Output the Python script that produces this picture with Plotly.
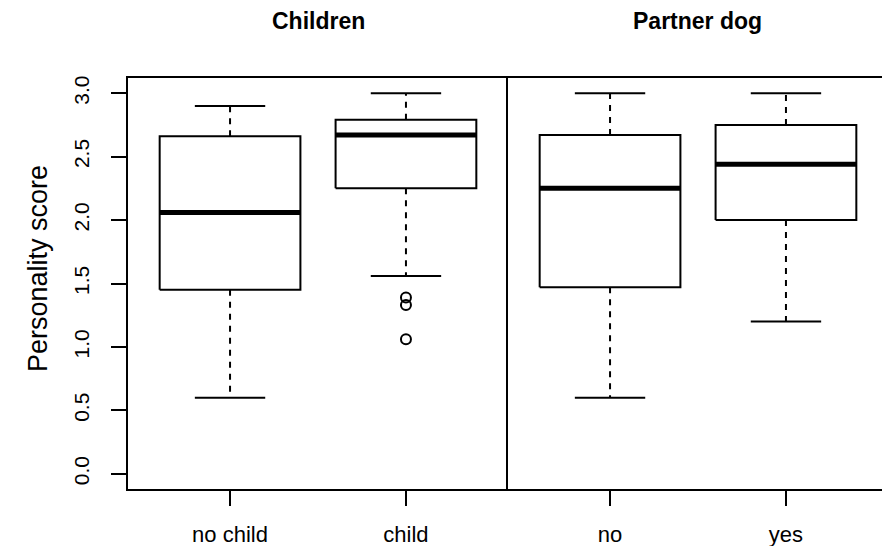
import plotly.graph_objects as go

# ---- data ----
panel_titles = ["Children", "Partner dog"]
children_groups = ["no child", "child"]
children_lower = [0.60, 1.56]
children_q1 = [1.45, 2.25]
children_median = [2.06, 2.67]
children_q3 = [2.66, 2.79]
children_upper = [2.90, 3.00]
children_outliers = [[], [1.39, 1.33, 1.06]]

dog_groups = ["no", "yes"]
dog_lower = [0.60, 1.20]
dog_q1 = [1.47, 2.00]
dog_median = [2.25, 2.44]
dog_q3 = [2.67, 2.75]
dog_upper = [3.00, 3.00]
dog_outliers = [[], []]

y_ticks = [0.0, 0.5, 1.0, 1.5, 2.0, 2.5, 3.0]
y_label = "Personality score"

FONT = "Liberation Sans, Arial, Helvetica, sans-serif"
BOX_HALF = 0.4
CAP_HALF = 0.2

fig = go.Figure()


def add_panel(xaxis, yaxis, groups, lower, q1, med, q3, upper, outliers):
    for i, name in enumerate(groups):
        pos = i + 1
        common = dict(xaxis=xaxis, yaxis=yaxis, hoverinfo="skip", showlegend=False)
        # box
        fig.add_trace(go.Scatter(
            x=[pos - BOX_HALF, pos + BOX_HALF, pos + BOX_HALF, pos - BOX_HALF, pos - BOX_HALF],
            y=[q1[i], q1[i], q3[i], q3[i], q1[i]],
            mode="lines", line=dict(color="black", width=2), **common))
        # whiskers (dashed)
        fig.add_trace(go.Scatter(x=[pos, pos], y=[q3[i], upper[i]], mode="lines",
                                 line=dict(color="black", width=2, dash="6px,6px"), **common))
        fig.add_trace(go.Scatter(x=[pos, pos], y=[q1[i], lower[i]], mode="lines",
                                 line=dict(color="black", width=2, dash="6px,6px"), **common))
        # caps
        fig.add_trace(go.Scatter(x=[pos - CAP_HALF, pos + CAP_HALF], y=[upper[i], upper[i]],
                                 mode="lines", line=dict(color="black", width=2), **common))
        fig.add_trace(go.Scatter(x=[pos - CAP_HALF, pos + CAP_HALF], y=[lower[i], lower[i]],
                                 mode="lines", line=dict(color="black", width=2), **common))
        # median
        fig.add_trace(go.Scatter(x=[pos - BOX_HALF, pos + BOX_HALF], y=[med[i], med[i]],
                                 mode="lines", line=dict(color="black", width=5), **common))
        # outliers
        if outliers[i]:
            fig.add_trace(go.Scatter(x=[pos] * len(outliers[i]), y=outliers[i], mode="markers",
                                     marker=dict(symbol="circle-open", size=10, color="black",
                                                 line=dict(width=2, color="black")), **common))


add_panel("x", "y", children_groups, children_lower, children_q1, children_median,
          children_q3, children_upper, children_outliers)
add_panel("x2", "y2", dog_groups, dog_lower, dog_q1, dog_median, dog_q3, dog_upper, dog_outliers)

W, H = 882, 546
ML, MR, MT, MB = 128, 0, 78, 57
plot_w = W - ML - MR
split = 380 / plot_w

axis_common = dict(showgrid=False, zeroline=False, linecolor="black", linewidth=2,
                   ticks="outside", ticklen=15, tickwidth=2, tickcolor="black",
                   tickfont=dict(family=FONT, size=22, color="black"))

fig.update_layout(
    width=W, height=H,
    margin=dict(l=ML, r=MR, t=MT, b=MB, pad=0),
    paper_bgcolor="white", plot_bgcolor="white",
    font=dict(family=FONT, color="black"),
    xaxis=dict(domain=[0, split], range=[0.42, 2.58], tickvals=[1, 2], ticktext=children_groups,
               showline=True, mirror=True, ticklabelstandoff=10, **axis_common),
    xaxis2=dict(domain=[split, 1], range=[0.42, 0.42 + (W - ML - 380) / (380 / 2.16)],
                tickvals=[1, 2], ticktext=dog_groups, anchor="y2",
                showline=True, mirror=True, ticklabelstandoff=10, **axis_common),
    yaxis=dict(range=[-0.12, 3.12], tickvals=y_ticks, ticktext=[f"{v:.1f}" for v in y_ticks],
               tickangle=-90, showline=True, mirror=False, ticklabelstandoff=14,
               **{**axis_common, "tickfont": dict(family=FONT, size=21, color="black")}),
    yaxis2=dict(range=[-0.12, 3.12], anchor="x2", showticklabels=False, ticks="",
                showline=True, mirror=False, showgrid=False, zeroline=False,
                linecolor="black", linewidth=2),
    annotations=[
        dict(text=f"<b>{panel_titles[0]}</b>", xref="paper", yref="paper",
             x=split / 2, y=1 + (MT - 21) / (H - MT - MB), xanchor="center", yanchor="middle",
             showarrow=False, font=dict(family=FONT, size=23, color="black")),
        dict(text=f"<b>{panel_titles[1]}</b>", xref="paper", yref="paper",
             x=(split + (887 - ML) / plot_w) / 2, y=1 + (MT - 21) / (H - MT - MB),
             xanchor="center", yanchor="middle",
             showarrow=False, font=dict(family=FONT, size=23, color="black")),
        dict(text=y_label, xref="paper", yref="paper", textangle=-90,
             x=(38 - ML) / plot_w, y=(H - MB - 269) / (H - MT - MB),
             xanchor="center", yanchor="middle", showarrow=False,
             font=dict(family=FONT, size=27, color="black")),
    ],
)

fig.write_html("out.html", config={"displayModeBar": False},
               post_script="document.body.style.margin='0';document.body.style.overflow='hidden';")
